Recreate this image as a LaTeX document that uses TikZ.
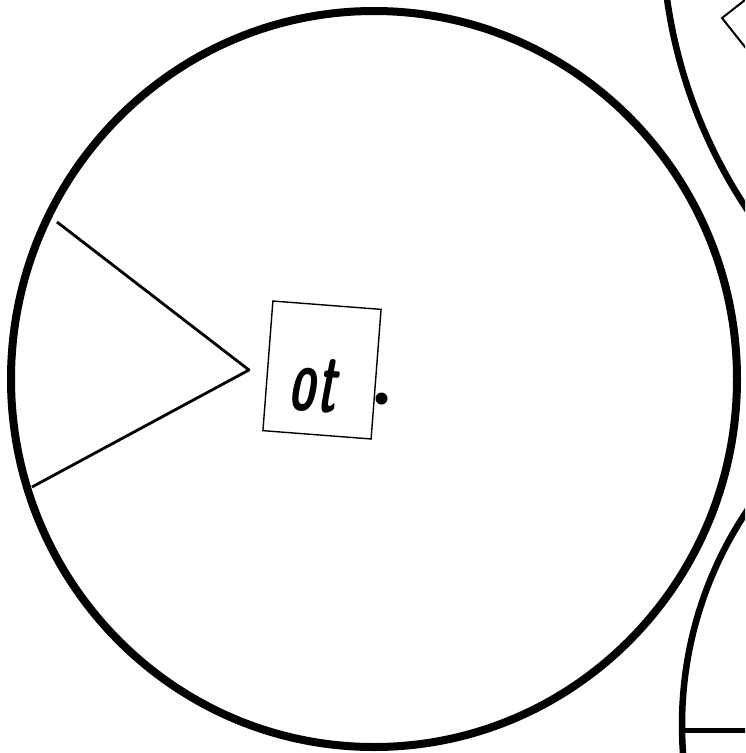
\documentclass[tikz,border=0pt]{standalone}
\usepackage{fontspec}
\begin{document}
\begin{tikzpicture}[x=1pt,y=-1pt,
  heavy/.style={line width=8pt},
  rim/.style={line width=6.5pt},
  thin/.style={line width=2.8pt, line join=round}]
\useasboundingbox (0,0) rectangle (745,753);
\clip (0,0) rectangle (745,753);
% main circle
\draw[heavy] (374,379) ellipse [x radius=363, y radius=368];
% partial neighbouring circles
\draw[rim] (1173,-73) circle (511);
\draw[rim] (1067,725) circle (385);
\coordinate (hl) at (682,730);
\coordinate (hr) at (760,730);
\draw[line width=5pt] (hl) -- (hr);
% diamond corner at top right
\coordinate (dv) at (722,18);
\coordinate (du) at (768,-18);
\coordinate (dd) at (768,76);
\draw[line width=2pt, line join=miter] (du) -- (dv) -- (dd);
% wedge
\coordinate (wt) at (57,222);
\coordinate (wa) at (249,370);
\coordinate (wb) at (32,487);
\draw[thin] (wt) -- (wa) -- (wb);
% box with label
\node[draw, line width=1.4pt, minimum width=108.5pt, minimum height=130pt,
      rotate=-4.4, inner sep=0pt] (box) at (322,370) {};
\node[font=\fontsize{90}{90}\sffamily\bfseries\itshape\selectfont, rotate=-4.4, anchor=base,
      xscale=0.52, inner sep=0pt] (label) at (312,411) {o\kern6pt t};
\fill (381.5,398.5) circle (6);
\end{tikzpicture}
\end{document}
